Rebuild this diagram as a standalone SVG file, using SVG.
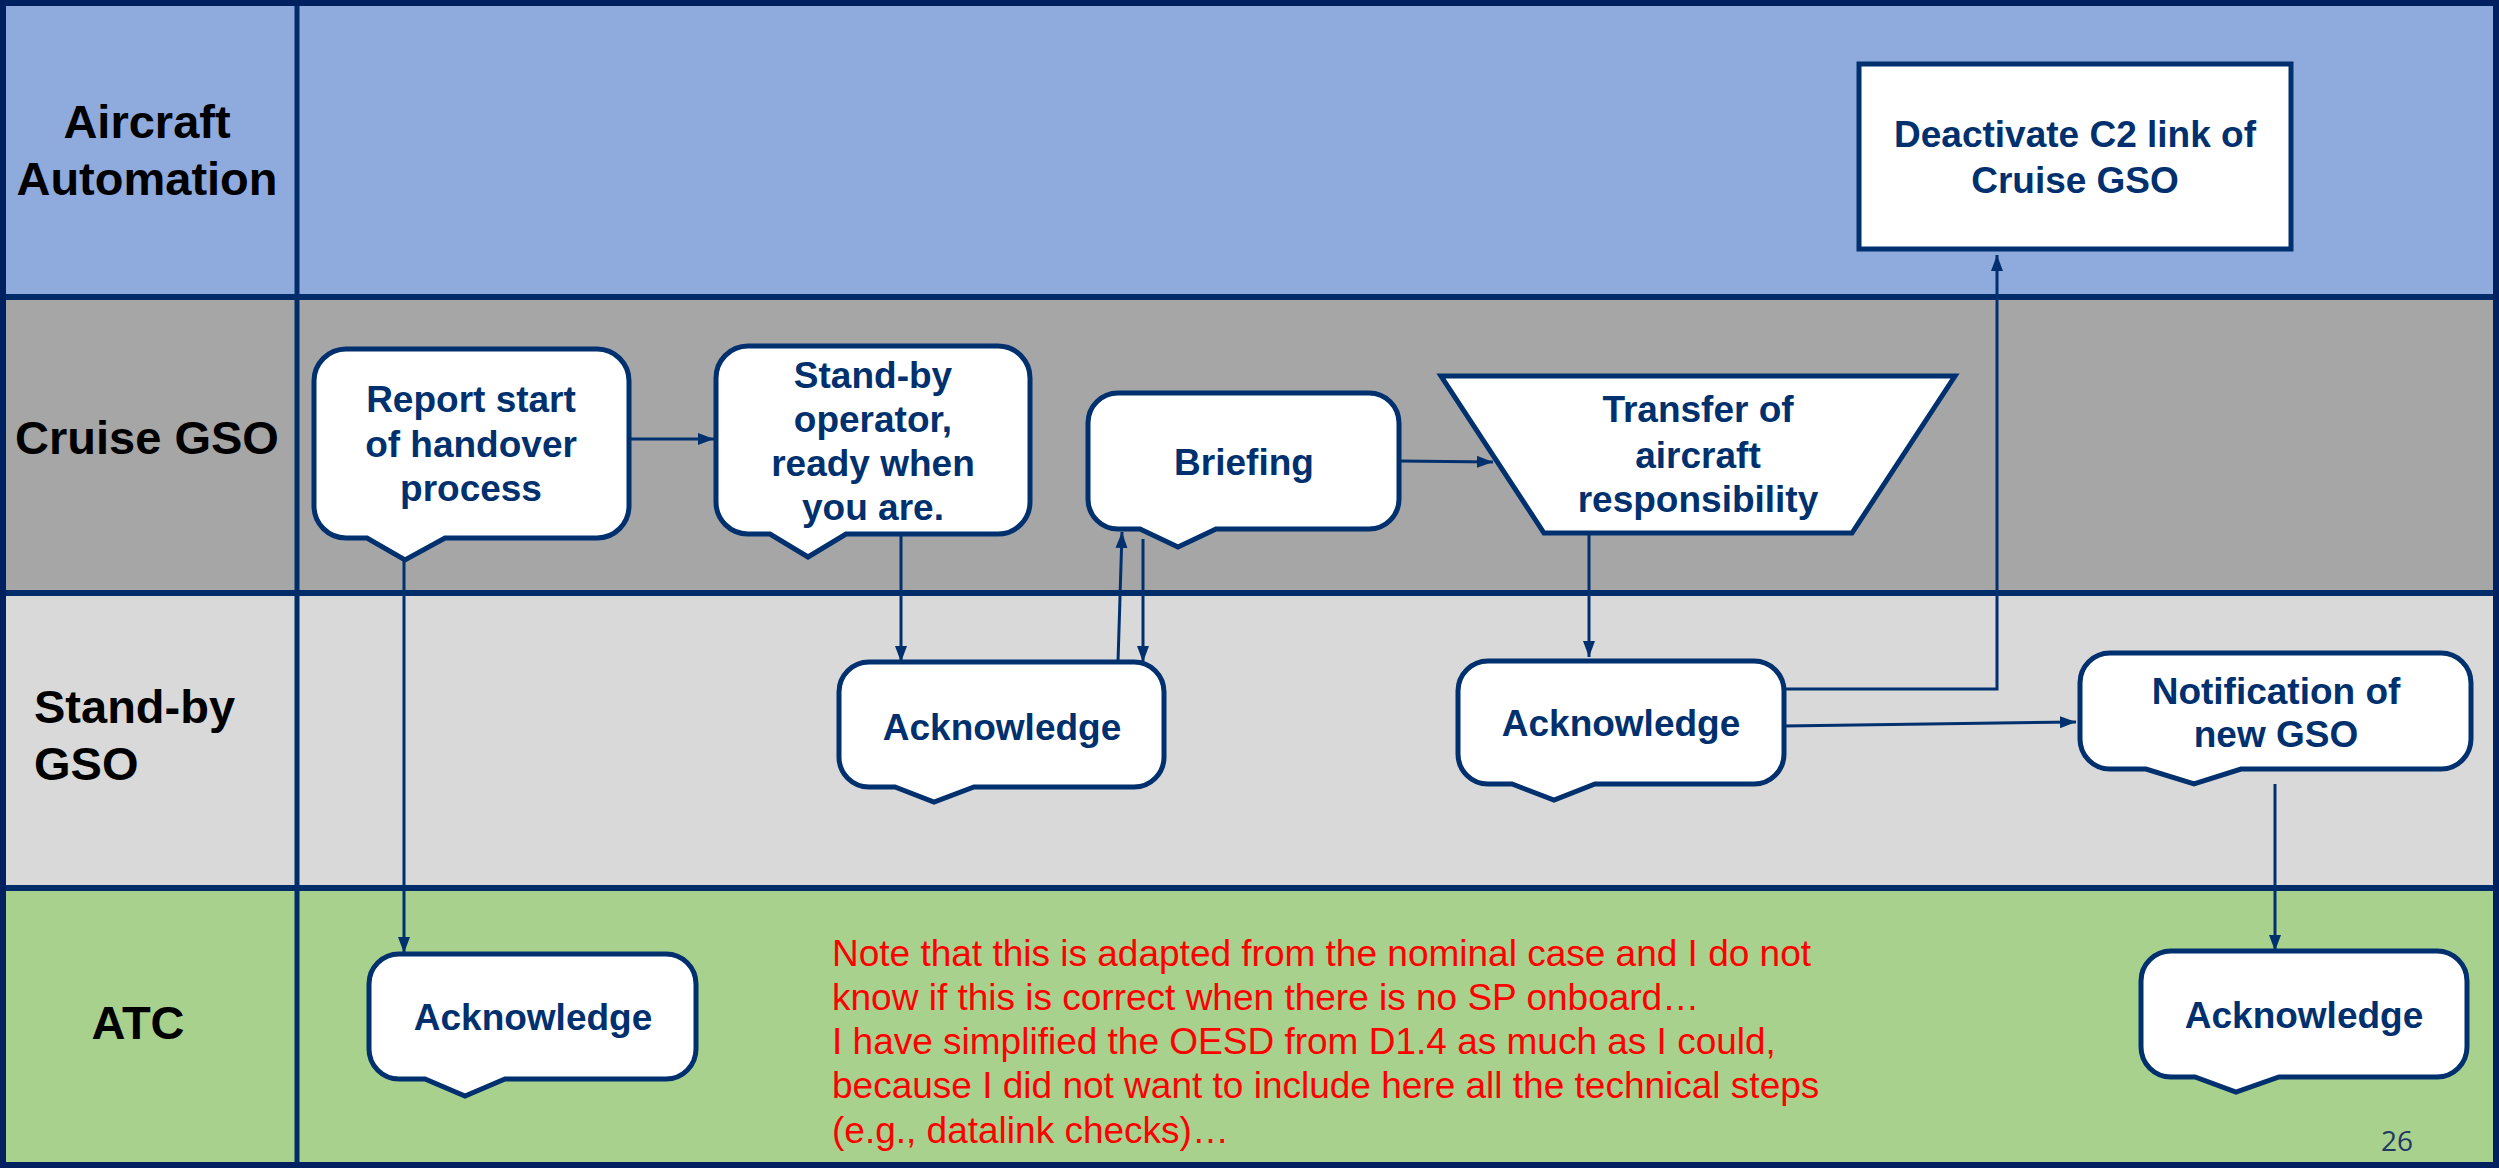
<svg xmlns="http://www.w3.org/2000/svg" width="2499" height="1168" viewBox="0 0 2499 1168">
<style>
.lane-label{font-family:"Liberation Sans",Arial,sans-serif;font-weight:bold;font-size:47px;fill:#000}
.node-box{fill:#fff;stroke:#00306E;stroke-width:5;stroke-linejoin:miter}
.node-text{font-family:"Liberation Sans",Arial,sans-serif;font-weight:bold;font-size:37px;fill:#00306E;text-anchor:middle}
.conn{fill:none;stroke:#00306E;stroke-width:3}
.divider{stroke:#002D6A;stroke-width:6}
.note{font-family:"Liberation Sans",Arial,sans-serif;font-size:37px;fill:#FF0000}
</style>
<defs>
<marker id="arrow" markerUnits="userSpaceOnUse" markerWidth="16" markerHeight="12" refX="16" refY="6" orient="auto">
<path d="M0,0 L16,6 L0,12 Z" fill="#00306E"/>
</marker>
</defs>

<g id="lanes">
<rect x="0" y="0" width="2499" height="297" fill="#8FAADC"/>
<rect x="0" y="297" width="2499" height="296" fill="#A6A6A6"/>
<rect x="0" y="593" width="2499" height="295" fill="#D9D9D9"/>
<rect x="0" y="888" width="2499" height="280" fill="#A9D18E"/>
<line class="divider" x1="0" y1="297" x2="2499" y2="297"/>
<line class="divider" x1="0" y1="593" x2="2499" y2="593"/>
<line class="divider" x1="0" y1="888" x2="2499" y2="888"/>
<line x1="297" y1="0" x2="297" y2="1168" stroke="#002D6A" stroke-width="5"/>
<rect x="3" y="3" width="2493" height="1162" fill="none" stroke="#002060" stroke-width="6"/>
<text class="lane-label" text-anchor="middle"><tspan x="147" y="138">Aircraft</tspan><tspan x="147" y="195">Automation</tspan></text>
<text class="lane-label" text-anchor="middle" x="147" y="454">Cruise GSO</text>
<text class="lane-label"><tspan x="34" y="723">Stand-by</tspan><tspan x="34" y="780">GSO</tspan></text>
<text class="lane-label" text-anchor="middle" x="138" y="1039">ATC</text>
</g>

<g id="connectors">
<line class="conn" x1="629" y1="439" x2="714" y2="439" marker-end="url(#arrow)"/>
<line class="conn" x1="404" y1="560" x2="404" y2="953" marker-end="url(#arrow)"/>
<line class="conn" x1="901" y1="534" x2="901" y2="662" marker-end="url(#arrow)"/>
<line class="conn" x1="1118" y1="662" x2="1122" y2="532" marker-end="url(#arrow)"/>
<line class="conn" x1="1143" y1="539" x2="1143" y2="662" marker-end="url(#arrow)"/>
<line class="conn" x1="1399" y1="461" x2="1493" y2="462" marker-end="url(#arrow)"/>
<line class="conn" x1="1589" y1="533" x2="1589" y2="657" marker-end="url(#arrow)"/>
<polyline class="conn" points="1784,689 1997,689 1997,255" marker-end="url(#arrow)"/>
<line class="conn" x1="1784" y1="726" x2="2076" y2="722" marker-end="url(#arrow)"/>
<line class="conn" x1="2275" y1="784" x2="2275" y2="951" marker-end="url(#arrow)"/>
</g>

<g id="node-report-start">
<path class="node-box" d="M346,349 H597 A32,32 0 0 1 629,381 V506 A32,32 0 0 1 597,538 H445 L405,560 L367,538 H346 A32,32 0 0 1 314,506 V381 A32,32 0 0 1 346,349 Z"/>
<text class="node-text"><tspan x="471" y="412">Report start</tspan><tspan x="471" y="457">of handover</tspan><tspan x="471" y="501">process</tspan></text>
</g>

<g id="node-standby-operator">
<path class="node-box" d="M748,346 H998 A32,32 0 0 1 1030,378 V502 A32,32 0 0 1 998,534 H846 L808,557 L770,534 H748 A32,32 0 0 1 716,502 V378 A32,32 0 0 1 748,346 Z"/>
<text class="node-text"><tspan x="873" y="388">Stand-by</tspan><tspan x="873" y="432">operator,</tspan><tspan x="873" y="476">ready when</tspan><tspan x="873" y="520">you are.</tspan></text>
</g>

<g id="node-briefing">
<path class="node-box" d="M1118,393 H1369 A30,30 0 0 1 1399,423 V499 A30,30 0 0 1 1369,529 H1216 L1178,547 L1140,529 H1118 A30,30 0 0 1 1088,499 V423 A30,30 0 0 1 1118,393 Z"/>
<text class="node-text" x="1244" y="475">Briefing</text>
</g>

<g id="node-transfer">
<polygon class="node-box" points="1441,376 1955,376 1852,533 1544,533"/>
<text class="node-text"><tspan x="1698" y="422">Transfer of</tspan><tspan x="1698" y="468">aircraft</tspan><tspan x="1698" y="512">responsibility</tspan></text>
</g>

<g id="node-deactivate">
<rect class="node-box" x="1859" y="64" width="432" height="185"/>
<text class="node-text"><tspan x="2075" y="147">Deactivate C2 link of</tspan><tspan x="2075" y="193">Cruise GSO</tspan></text>
</g>

<g id="node-ack-standby-1">
<path class="node-box" d="M869,662 H1134 A30,30 0 0 1 1164,692 V757 A30,30 0 0 1 1134,787 H974 L934,802 L895,787 H869 A30,30 0 0 1 839,757 V692 A30,30 0 0 1 869,662 Z"/>
<text class="node-text" x="1002" y="740">Acknowledge</text>
</g>

<g id="node-ack-standby-2">
<path class="node-box" d="M1488,661 H1754 A30,30 0 0 1 1784,691 V754 A30,30 0 0 1 1754,784 H1595 L1554,800 L1512,784 H1488 A30,30 0 0 1 1458,754 V691 A30,30 0 0 1 1488,661 Z"/>
<text class="node-text" x="1621" y="736">Acknowledge</text>
</g>

<g id="node-notification">
<path class="node-box" d="M2110,653 H2441 A30,30 0 0 1 2471,683 V739 A30,30 0 0 1 2441,769 H2241 L2194,784 L2146,769 H2110 A30,30 0 0 1 2080,739 V683 A30,30 0 0 1 2110,653 Z"/>
<text class="node-text"><tspan x="2276" y="704">Notification of</tspan><tspan x="2276" y="747">new GSO</tspan></text>
</g>

<g id="node-ack-atc-1">
<path class="node-box" d="M399,954 H666 A30,30 0 0 1 696,984 V1049 A30,30 0 0 1 666,1079 H505 L465,1096 L425,1079 H399 A30,30 0 0 1 369,1049 V984 A30,30 0 0 1 399,954 Z"/>
<text class="node-text" x="533" y="1030">Acknowledge</text>
</g>

<g id="node-ack-atc-2">
<path class="node-box" d="M2171,951 H2437 A30,30 0 0 1 2467,981 V1047 A30,30 0 0 1 2437,1077 H2279 L2236,1092 L2195,1077 H2171 A30,30 0 0 1 2141,1047 V981 A30,30 0 0 1 2171,951 Z"/>
<text class="node-text" x="2304" y="1028">Acknowledge</text>
</g>

<g id="note">
<text class="note"><tspan x="832" y="966">Note that this is adapted from the nominal case and I do not</tspan><tspan x="832" y="1010">know if this is correct when there is no SP onboard…</tspan><tspan x="832" y="1054">I have simplified the OESD from D1.4 as much as I could,</tspan><tspan x="832" y="1098">because I did not want to include here all the technical steps</tspan><tspan x="832" y="1143">(e.g., datalink checks)…</tspan></text>
</g>

<text x="2397" y="1151" text-anchor="middle" font-family="'Open Sans','Liberation Sans',sans-serif" font-size="28" fill="#1F3864">26</text>
</svg>
